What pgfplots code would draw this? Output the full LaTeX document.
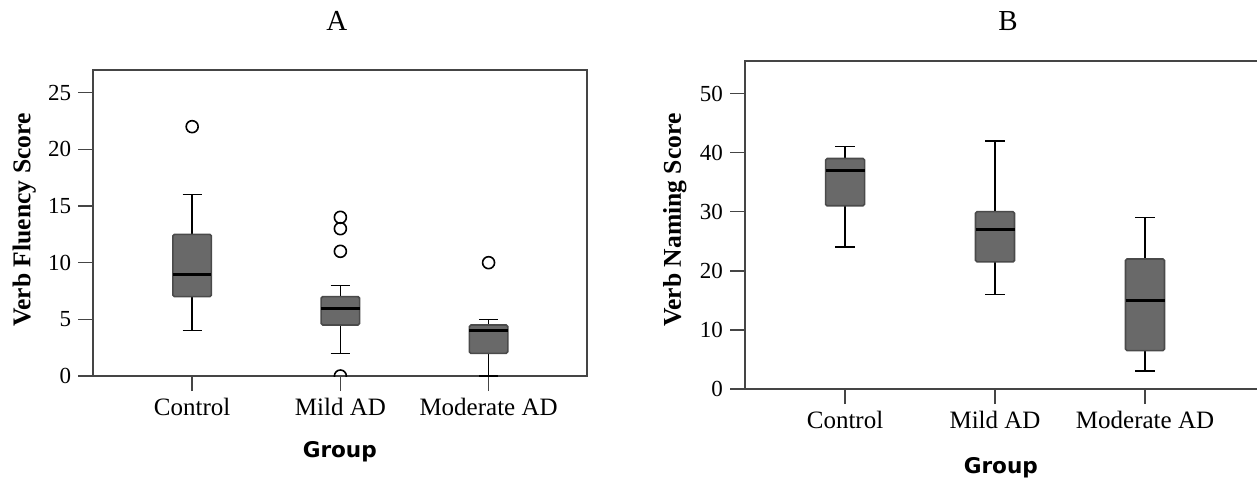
\documentclass[border=0pt]{standalone}
\usepackage{pgfplots}
\pgfplotsset{compat=1.18}
\usepgfplotslibrary{statistics}
\usepackage{fontspec}
\setmainfont{Liberation Serif}
\newfontfamily\groupfont{DejaVu Sans}

\definecolor{boxfill}{HTML}{696969}
\definecolor{boxedge}{HTML}{4A4A4A}
\definecolor{axisgray}{HTML}{454545}

\pgfplotsset{
  spss/.style={
    scale only axis,
    axis line style={axisgray, line width=0.9pt},
    tick style={axisgray, line width=0.8pt},
    tick align=outside, major tick length=7.5pt,
    tick pos=left,
    xtick={1,2,3}, xticklabels={Control, Mild AD, Moderate AD},
    xmin=0.333, ymin=0,
    /pgf/number format/assume math mode=true,
    yticklabel style={font=\fontsize{11.5}{13}\selectfont},
    xticklabel style={font=\fontsize{12.5}{14}\selectfont},
    ylabel style={font=\fontsize{12.8}{14}\selectfont\bfseries, anchor=center},
    xlabel style={font=\groupfont\bfseries\fontsize{10.8}{12}\selectfont, anchor=center},
    title style={font=\fontsize{14.5}{16}\selectfont, anchor=center},
    clip marker paths=true,
    boxplot/draw direction=y,
    boxplot/box extend=0.26,
    boxplot/whisker extend=0.13,
    boxplot/every box/.style={draw=boxedge, fill=boxfill, line width=0.8pt, rounded corners=0.8pt},
    boxplot/every median/.style={black, line width=1.5pt},
    boxplot/every whisker/.style={black, line width=0.8pt},
    every axis plot/.append style={black, mark=o, mark size=3pt,
      mark options={line width=0.8pt, fill=white}},
  },
}

\begin{document}
\begin{tikzpicture}
\useasboundingbox (0,0) rectangle (628.5pt,241pt);

% A: verb fluency
\begin{axis}[spss,
  at={(46.65pt,53pt)}, anchor=south west,
  width=247pt, height=153pt,
  xmax=3.666, ymax=27,
  ytick={0,5,10,15,20,25},
  ylabel={Verb Fluency Score},
  ylabel style={at={(rel axis cs:-0.140,0.51)}},
  xlabel={Group},
  xlabel style={at={(rel axis cs:0.499,-0.248)}},
  title={A},
  title style={at={(rel axis cs:0.493,1.121)}},
]
\addplot[boxplot prepared={lower whisker=4, lower quartile=7, median=9,
  upper quartile=12.5, upper whisker=16, draw position=1}]
  coordinates {(1,22)};
\addplot[boxplot prepared={lower whisker=2, lower quartile=4.5, median=6,
  upper quartile=7, upper whisker=8, draw position=2}]
  coordinates {(2,0) (2,11) (2,13) (2,14)};
\addplot[boxplot prepared={lower whisker=0, lower quartile=2, median=4,
  upper quartile=4.5, upper whisker=5, draw position=3}]
  coordinates {(3,10)};
\end{axis}

% B: verb naming
\begin{axis}[spss,
  at={(372.5pt,46.5pt)}, anchor=south west,
  width=260pt, height=164pt,
  xmax=3.8, ymax=55.5,
  ytick={0,10,20,30,40,50},
  ylabel={Verb Naming Score},
  ylabel style={at={(rel axis cs:-0.135,0.515)}},
  xlabel={Group},
  xlabel style={at={(rel axis cs:0.492,-0.241)}},
  title={B},
  title style={at={(rel axis cs:0.506,1.085)}},
]
\addplot[boxplot prepared={lower whisker=24, lower quartile=31, median=37,
  upper quartile=39, upper whisker=41, draw position=1}]
  coordinates {};
\addplot[boxplot prepared={lower whisker=16, lower quartile=21.5, median=27,
  upper quartile=30, upper whisker=42, draw position=2}]
  coordinates {};
\addplot[boxplot prepared={lower whisker=3, lower quartile=6.5, median=15,
  upper quartile=22, upper whisker=29, draw position=3}]
  coordinates {};
\end{axis}
\end{tikzpicture}
\end{document}
